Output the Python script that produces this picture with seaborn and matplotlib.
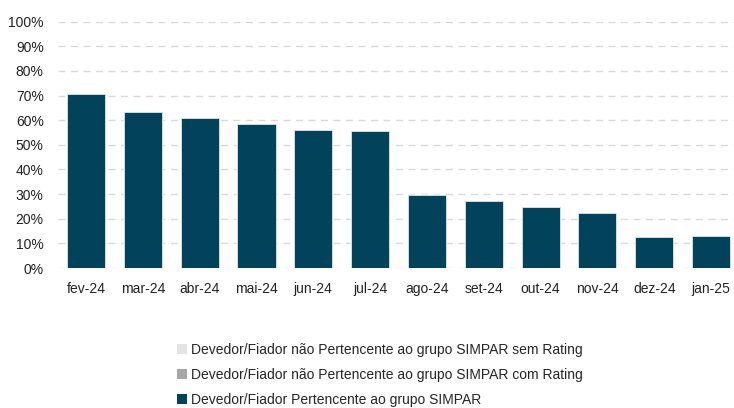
import matplotlib
matplotlib.use("Agg")
import matplotlib.pyplot as plt
import numpy as np
import pandas as pd
import seaborn as sns
from matplotlib.patches import Patch

# data
months = ["fev-24", "mar-24", "abr-24", "mai-24", "jun-24", "jul-24",
          "ago-24", "set-24", "out-24", "nov-24", "dez-24", "jan-25"]
simpar = [0.707, 0.632, 0.609, 0.585, 0.561, 0.557,
          0.297, 0.273, 0.249, 0.224, 0.124, 0.129]
nao_com_rating = [0.0] * 12
nao_sem_rating = [0.0] * 12

labels = ["Devedor/Fiador não Pertencente ao grupo SIMPAR sem Rating",
          "Devedor/Fiador não Pertencente ao grupo SIMPAR com Rating",
          "Devedor/Fiador Pertencente ao grupo SIMPAR"]
colors = ["#e3e3e3", "#a6a6a6", "#02425a"]

df = pd.DataFrame({"mes": months, "simpar": simpar,
                   "com": nao_com_rating, "sem": nao_sem_rating})
df["simpar_com"] = df["simpar"] + df["com"]
df["total"] = df["simpar_com"] + df["sem"]

sns.set_style("white")
plt.rcParams["font.family"] = ["Liberation Sans", "DejaVu Sans"]

fig = plt.figure(figsize=(7.34, 4.08), dpi=100)
ax = fig.add_axes([0.0785, 0.343, 0.929, 0.604])

# stacked: draw the tallest stack first, then cover with lower segments
sns.barplot(data=df, x="mes", y="total", color=colors[0], width=0.67,
            saturation=1, ax=ax, zorder=3)
sns.barplot(data=df, x="mes", y="simpar_com", color=colors[1], width=0.67,
            saturation=1, ax=ax, zorder=3)
sns.barplot(data=df, x="mes", y="simpar", color=colors[2], width=0.67,
            saturation=1, ax=ax, zorder=3, edgecolor="#dfe6ea", linewidth=0.6)

ax.set_ylim(0, 1.0)
ax.set_yticks(np.arange(0, 1.01, 0.1))
ax.set_yticklabels([f"{int(round(v * 100))}%" for v in np.arange(0, 1.01, 0.1)])
ax.set_xlim(-0.5, len(months) - 0.5)
ax.set_xlabel("")
ax.set_ylabel("")
ax.yaxis.grid(True, color="#d9d9d9", linestyle=(0, (5, 4)), linewidth=1, zorder=0)
ax.xaxis.grid(False)
ax.tick_params(axis="y", length=0, pad=10, labelsize=10, labelcolor="#222222")
ax.tick_params(axis="x", length=0, pad=10, labelsize=10, labelcolor="#222222")
for s in ax.spines.values():
    s.set_visible(False)

handles = [Patch(facecolor=c, edgecolor="none") for c in colors]
fig.legend(handles, labels, loc="upper left", bbox_to_anchor=(0.241, 0.16),
           frameon=False, fontsize=10, handlelength=0.75, handleheight=0.75,
           handletextpad=0.25, labelspacing=0.8, borderpad=0, borderaxespad=0)

fig.savefig("out.png", dpi=100)
